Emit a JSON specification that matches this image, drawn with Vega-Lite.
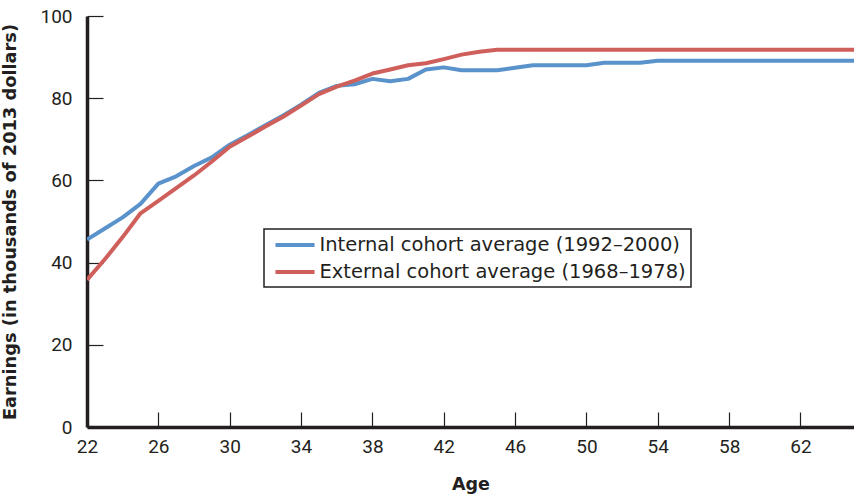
{
  "$schema": "https://vega.github.io/schema/vega-lite/v6.json",
  "width": 767,
  "height": 411,
  "autosize": {"type": "none"},
  "padding": {"left": 87, "top": 16, "right": 0, "bottom": 71},
  "background": "white",
  "config": {"view": {"stroke": null}},
  "datasets": {
    "earn": [
      {"age": 22, "series": "Internal cohort average (1992–2000)", "value": 45.6},
      {"age": 23, "series": "Internal cohort average (1992–2000)", "value": 48.3},
      {"age": 24, "series": "Internal cohort average (1992–2000)", "value": 51.0},
      {"age": 25, "series": "Internal cohort average (1992–2000)", "value": 54.3},
      {"age": 26, "series": "Internal cohort average (1992–2000)", "value": 59.2},
      {"age": 27, "series": "Internal cohort average (1992–2000)", "value": 61.0},
      {"age": 28, "series": "Internal cohort average (1992–2000)", "value": 63.5},
      {"age": 29, "series": "Internal cohort average (1992–2000)", "value": 65.6},
      {"age": 30, "series": "Internal cohort average (1992–2000)", "value": 68.7},
      {"age": 31, "series": "Internal cohort average (1992–2000)", "value": 71.0},
      {"age": 32, "series": "Internal cohort average (1992–2000)", "value": 73.4},
      {"age": 33, "series": "Internal cohort average (1992–2000)", "value": 75.8},
      {"age": 34, "series": "Internal cohort average (1992–2000)", "value": 78.4},
      {"age": 35, "series": "Internal cohort average (1992–2000)", "value": 81.3},
      {"age": 36, "series": "Internal cohort average (1992–2000)", "value": 83.0},
      {"age": 37, "series": "Internal cohort average (1992–2000)", "value": 83.4},
      {"age": 38, "series": "Internal cohort average (1992–2000)", "value": 84.7},
      {"age": 39, "series": "Internal cohort average (1992–2000)", "value": 84.1},
      {"age": 40, "series": "Internal cohort average (1992–2000)", "value": 84.7},
      {"age": 41, "series": "Internal cohort average (1992–2000)", "value": 87.0},
      {"age": 42, "series": "Internal cohort average (1992–2000)", "value": 87.5},
      {"age": 43, "series": "Internal cohort average (1992–2000)", "value": 86.8},
      {"age": 44, "series": "Internal cohort average (1992–2000)", "value": 86.8},
      {"age": 45, "series": "Internal cohort average (1992–2000)", "value": 86.8},
      {"age": 46, "series": "Internal cohort average (1992–2000)", "value": 87.4},
      {"age": 47, "series": "Internal cohort average (1992–2000)", "value": 88.0},
      {"age": 48, "series": "Internal cohort average (1992–2000)", "value": 88.0},
      {"age": 49, "series": "Internal cohort average (1992–2000)", "value": 88.0},
      {"age": 50, "series": "Internal cohort average (1992–2000)", "value": 88.0},
      {"age": 51, "series": "Internal cohort average (1992–2000)", "value": 88.6},
      {"age": 52, "series": "Internal cohort average (1992–2000)", "value": 88.6},
      {"age": 53, "series": "Internal cohort average (1992–2000)", "value": 88.6},
      {"age": 54, "series": "Internal cohort average (1992–2000)", "value": 89.1},
      {"age": 55, "series": "Internal cohort average (1992–2000)", "value": 89.1},
      {"age": 56, "series": "Internal cohort average (1992–2000)", "value": 89.1},
      {"age": 57, "series": "Internal cohort average (1992–2000)", "value": 89.1},
      {"age": 58, "series": "Internal cohort average (1992–2000)", "value": 89.1},
      {"age": 59, "series": "Internal cohort average (1992–2000)", "value": 89.1},
      {"age": 60, "series": "Internal cohort average (1992–2000)", "value": 89.1},
      {"age": 61, "series": "Internal cohort average (1992–2000)", "value": 89.1},
      {"age": 62, "series": "Internal cohort average (1992–2000)", "value": 89.1},
      {"age": 63, "series": "Internal cohort average (1992–2000)", "value": 89.1},
      {"age": 64, "series": "Internal cohort average (1992–2000)", "value": 89.1},
      {"age": 65, "series": "Internal cohort average (1992–2000)", "value": 89.1},
      {"age": 22, "series": "External cohort average (1968–1978)", "value": 35.8},
      {"age": 23, "series": "External cohort average (1968–1978)", "value": 40.8},
      {"age": 24, "series": "External cohort average (1968–1978)", "value": 46.2},
      {"age": 25, "series": "External cohort average (1968–1978)", "value": 52.0},
      {"age": 26, "series": "External cohort average (1968–1978)", "value": 55.0},
      {"age": 27, "series": "External cohort average (1968–1978)", "value": 58.1},
      {"age": 28, "series": "External cohort average (1968–1978)", "value": 61.2},
      {"age": 29, "series": "External cohort average (1968–1978)", "value": 64.6},
      {"age": 30, "series": "External cohort average (1968–1978)", "value": 68.2},
      {"age": 31, "series": "External cohort average (1968–1978)", "value": 70.6},
      {"age": 32, "series": "External cohort average (1968–1978)", "value": 73.1},
      {"age": 33, "series": "External cohort average (1968–1978)", "value": 75.5},
      {"age": 34, "series": "External cohort average (1968–1978)", "value": 78.2},
      {"age": 35, "series": "External cohort average (1968–1978)", "value": 81.0},
      {"age": 36, "series": "External cohort average (1968–1978)", "value": 82.8},
      {"age": 37, "series": "External cohort average (1968–1978)", "value": 84.3},
      {"age": 38, "series": "External cohort average (1968–1978)", "value": 86.0},
      {"age": 39, "series": "External cohort average (1968–1978)", "value": 87.0},
      {"age": 40, "series": "External cohort average (1968–1978)", "value": 88.0},
      {"age": 41, "series": "External cohort average (1968–1978)", "value": 88.5},
      {"age": 42, "series": "External cohort average (1968–1978)", "value": 89.5},
      {"age": 43, "series": "External cohort average (1968–1978)", "value": 90.6},
      {"age": 44, "series": "External cohort average (1968–1978)", "value": 91.3},
      {"age": 45, "series": "External cohort average (1968–1978)", "value": 91.8},
      {"age": 46, "series": "External cohort average (1968–1978)", "value": 91.8},
      {"age": 47, "series": "External cohort average (1968–1978)", "value": 91.8},
      {"age": 48, "series": "External cohort average (1968–1978)", "value": 91.8},
      {"age": 49, "series": "External cohort average (1968–1978)", "value": 91.8},
      {"age": 50, "series": "External cohort average (1968–1978)", "value": 91.8},
      {"age": 51, "series": "External cohort average (1968–1978)", "value": 91.8},
      {"age": 52, "series": "External cohort average (1968–1978)", "value": 91.8},
      {"age": 53, "series": "External cohort average (1968–1978)", "value": 91.8},
      {"age": 54, "series": "External cohort average (1968–1978)", "value": 91.8},
      {"age": 55, "series": "External cohort average (1968–1978)", "value": 91.8},
      {"age": 56, "series": "External cohort average (1968–1978)", "value": 91.8},
      {"age": 57, "series": "External cohort average (1968–1978)", "value": 91.8},
      {"age": 58, "series": "External cohort average (1968–1978)", "value": 91.8},
      {"age": 59, "series": "External cohort average (1968–1978)", "value": 91.8},
      {"age": 60, "series": "External cohort average (1968–1978)", "value": 91.8},
      {"age": 61, "series": "External cohort average (1968–1978)", "value": 91.8},
      {"age": 62, "series": "External cohort average (1968–1978)", "value": 91.8},
      {"age": 63, "series": "External cohort average (1968–1978)", "value": 91.8},
      {"age": 64, "series": "External cohort average (1968–1978)", "value": 91.8},
      {"age": 65, "series": "External cohort average (1968–1978)", "value": 91.8}
    ]
  },
  "data": {"name": "earn"},
  "mark": {"type": "line", "strokeWidth": 4, "clip": true, "strokeJoin": "round"},
  "encoding": {
    "x": {
      "field": "age",
      "type": "quantitative",
      "scale": {"domain": [22, 65], "nice": false, "zero": false},
      "axis": {
        "title": "Age",
        "values": [22, 26, 30, 34, 38, 42, 46, 50, 54, 58, 62],
        "grid": false,
        "domainColor": "#231f20",
        "domainWidth": 3.5,
        "tickColor": "#231f20",
        "tickWidth": 1.2,
        "tickSize": -15,
        "labelPadding": 25,
        "labelFont": "Liberation Sans Narrow, Roboto, sans-serif",
        "labelFontSize": 19,
        "labelColor": "#231f20",
        "labelFlush": false,
        "titleFont": "DejaVu Sans",
        "titleFontSize": 17.5,
        "titleFontWeight": "bold",
        "titleColor": "#231f20",
        "titlePadding": 19
      }
    },
    "y": {
      "field": "value",
      "type": "quantitative",
      "scale": {"domain": [0, 100], "nice": false},
      "axis": {
        "title": "Earnings (in thousands of 2013 dollars)",
        "values": [0, 20, 40, 60, 80, 100],
        "grid": false,
        "domainColor": "#231f20",
        "domainWidth": 3.5,
        "tickColor": "#231f20",
        "tickWidth": 1.2,
        "tickSize": -16,
        "labelPadding": 31,
        "labelFont": "Liberation Sans Narrow, Roboto, sans-serif",
        "labelFontSize": 19,
        "labelColor": "#231f20",
        "labelFlush": false,
        "titleFont": "DejaVu Sans",
        "titleFontSize": 17.8,
        "titleFontWeight": "bold",
        "titleColor": "#231f20",
        "titlePadding": 20
      }
    },
    "color": {
      "field": "series",
      "type": "nominal",
      "scale": {
        "domain": ["Internal cohort average (1992–2000)", "External cohort average (1968–1978)"],
        "range": ["#5A93CB", "#CF5F5B"]
      },
      "legend": {
        "title": null,
        "orient": "none",
        "legendX": 177,
        "legendY": 213,
        "strokeColor": "#231f20",
        "padding": 5,
        "symbolType": "M-2.17,0H2.17",
        "symbolSize": 324,
        "symbolStrokeWidth": 4,
        "symbolOffset": 15,
        "labelFont": "DejaVu Sans",
        "labelFontSize": 19.5,
        "labelColor": "#231f20",
        "labelLimit": 500,
        "rowPadding": 6,
        "labelOffset": 13.5,
        "encode": {"legend": {"update": {"strokeWidth": {"value": 1.5}}}}
      }
    }
  }
}
